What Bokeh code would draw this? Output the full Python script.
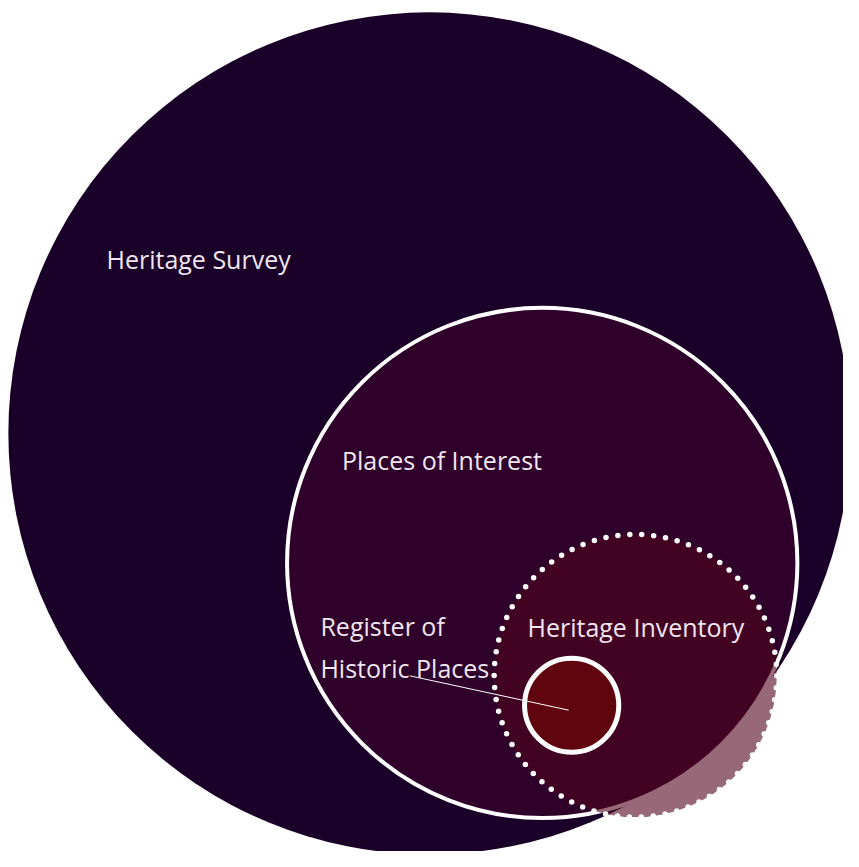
from bokeh.plotting import figure
from bokeh.models import Range1d, ColumnDataSource
from bokeh.core.properties import value
from bokeh.embed import file_html
from bokeh.resources import INLINE

# ---- data: nested sets (centre and radius of each circle) ----
set_names = ["Heritage Survey", "Places of Interest", "Heritage Inventory", "Register of Historic Places"]
set_cx = [437, 552, 647, 582]
set_cy = [441, 573, 688, 718]
set_r = [429, 260, 144, 48]

# ---- labels ----
label_text = ["Heritage Survey", "Places of Interest", "Heritage Inventory", "Register of", "Historic Places"]
label_x = [108, 348, 537, 326, 326]
label_y = [263, 468, 638, 637, 680]

# leader line from the register label to its circle
leader_x = [417, 579]
leader_y = [688, 723]

p = figure(width=843, height=851, output_backend="svg", toolbar_location=None,
           x_range=Range1d(0, 859), y_range=Range1d(867, 0),
           min_border=0, background_fill_color="white", border_fill_color="white")
p.axis.visible = False
p.grid.visible = False
p.outline_line_color = None

# Heritage Survey (outer)
p.circle(x=[set_cx[0]], y=[set_cy[0]], radius=[set_r[0]],
         fill_color="#1a0028", line_color=None)
# Places of Interest
p.circle(x=[set_cx[1]], y=[set_cy[1]], radius=[set_r[1]],
         fill_color="#2e002a", line_color="white", line_width=4)
# Heritage Inventory (semi-transparent, dotted outline)
p.circle(x=[set_cx[2]], y=[set_cy[2]], radius=[set_r[2]],
         fill_color="#50031e", fill_alpha=0.6, line_color="white",
         line_width=5.5, line_dash="0 12", line_cap="round")
# Register of Historic Places
p.circle(x=[set_cx[3]], y=[set_cy[3]], radius=[set_r[3]],
         fill_color="#60050e", line_color="white", line_width=5)

p.line(x=leader_x, y=leader_y, line_color="white", line_width=1)

src = ColumnDataSource(dict(x=label_x, y=label_y, t=label_text))
p.text(x="x", y="y", text="t", source=src, text_font=value("Open Sans"),
       text_font_size="25px", text_color="#f0e6f0", text_align="left",
       text_baseline="alphabetic")

open("out.html", "w").write(file_html(p, INLINE))
